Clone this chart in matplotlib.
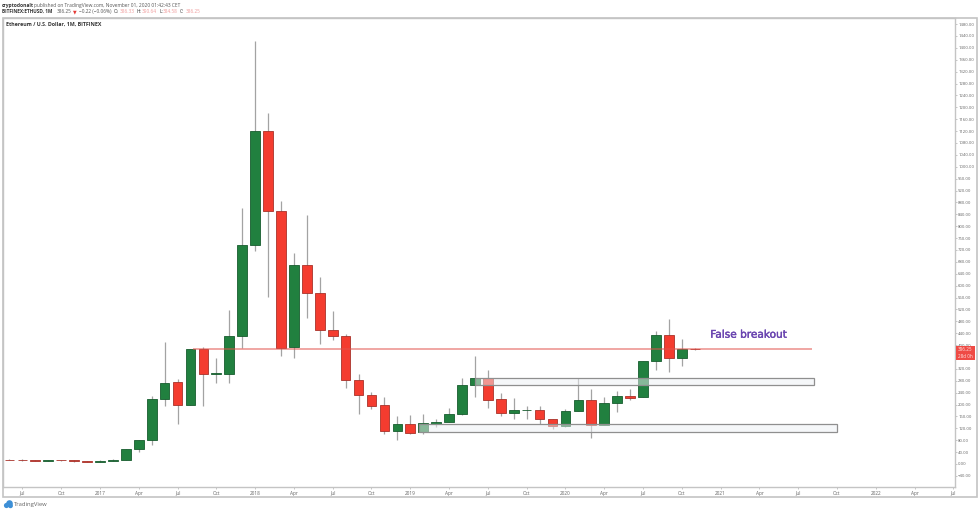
import matplotlib
matplotlib.use("Agg")
import matplotlib.pyplot as plt
import matplotlib.patheffects as pe
from matplotlib.patches import Rectangle, Circle

# months counted from Jan 2017, one candle per month (Jun 2016 -> Nov 2020)
months = list(range(-7, 47))
opens = [15, 14, 12, 11, 13, 12, 9, 8, 10, 13, 49, 80, 217, 275, 198, 387, 302, 302, 431, 736,
         1120, 851, 392, 669, 574, 452, 431, 283, 232, 198, 112, 134, 106, 136, 142, 168, 266, 289,
         218, 172, 181, 182, 150, 128, 179, 216, 132, 204, 230, 224, 345, 433, 358, 386.33]
closes = [14, 12, 11, 13, 12, 9, 8, 10, 15, 49, 80, 217, 273, 198, 387, 302, 305, 431, 736, 1120,
          850, 389, 669, 574, 452, 431, 283, 232, 196, 112, 134, 105, 137, 142, 169, 267, 289, 216,
          172, 181, 183, 150, 128, 179, 216, 132, 204, 230, 223, 346, 433, 358, 386, 386.25]
highs = [18, 16, 14, 15, 15, 13, 11, 12, 17, 52, 82, 229, 410, 285, 387, 395, 356, 518, 862, 1424,
         1180, 886, 711, 838, 628, 515, 436, 303, 243, 225, 161, 165, 168, 152, 187, 288, 363, 316,
         240, 223, 196, 195, 151, 184, 288, 252, 226, 246, 252, 346, 446, 488, 419, 390.64]
lows = [12, 11, 9, 10, 10, 8, 7, 8, 9, 13, 40, 64, 195, 134, 198, 195, 271, 271, 389, 717, 563,
        363, 356, 490, 404, 417, 255, 167, 185, 101, 81, 101, 101, 124, 141, 165, 224, 189, 162,
        151, 152, 134, 118, 125, 179, 88, 132, 174, 215, 224, 316, 308, 331, 384.58]

price_ticks = list(range(-40, 1481, 40))
time_ticks = list(range(-6, 67, 3))
time_labels = ["Jul", "Oct", "2017", "Apr", "Jul", "Oct", "2018", "Apr", "Jul", "Oct", "2019", "Apr", "Jul",
               "Oct", "2020", "Apr", "Jul", "Oct", "2021", "Apr", "Jul", "Oct", "2022", "Apr", "Jul"]

resistance = 387
upper_zone = (266, 289)
lower_zone = (106, 134)

GREEN = "#21803f"
RED = "#f43c2f"
GREY = "#666666"
ZONE_FILL = (0.93, 0.94, 0.955, 0.5)

W, H = 980, 512
fig = plt.figure(figsize=(W / 100, H / 100), dpi=100, facecolor="white")
plt.rcParams["font.family"] = ["Open Sans", "DejaVu Sans"]

left, right, top, bottom = 3, 955, 18, 486.7
ax = fig.add_axes([left / W, 1 - bottom / H, (right - left) / W, (bottom - top) / H])
ax.set_xlim(-7.5, 66.13)
ax.set_ylim(-76.4, 1500.4)

# candles
for m, o, h, l, c in zip(months, opens, highs, lows, closes):
    col = GREEN if c >= o else RED
    edge = "#175c2e" if c >= o else "#a8322a"
    ax.vlines(m, l, h, color="#a3a3a3", lw=0.9, zorder=2)
    ax.bar(m, abs(c - o), bottom=min(o, c), width=0.75, color=col, edgecolor=edge, lw=0.6, zorder=3)

# drawings
ax.hlines(resistance, 7.2, 55.1, color="#e2524c", lw=1.2, alpha=0.6, zorder=4)
ax.add_patch(Rectangle((29, upper_zone[0]), 26.2, upper_zone[1] - upper_zone[0], facecolor=ZONE_FILL,
                       edgecolor="#8f8f8f", lw=0.9, zorder=4))
ax.add_patch(Rectangle((24.7, lower_zone[0]), 32.3, lower_zone[1] - lower_zone[0], facecolor=ZONE_FILL,
                       edgecolor="#8f8f8f", lw=0.9, zorder=4))
ax.text(47.2, 435, "False breakout", color="#6a45b0", fontsize=7.6, family=["DejaVu Sans"],
        va="center", ha="left", zorder=5,
        path_effects=[pe.withStroke(linewidth=0.3, foreground="#6a45b0")])

# axes, TradingView style
ax.yaxis.tick_right()
ax.set_yticks(price_ticks)
ax.set_yticklabels([f"{p:.2f}".replace("-", "\u2212") for p in price_ticks], fontsize=3.1, color=GREY)
ax.set_xticks(time_ticks)
ax.set_xticklabels(time_labels, fontsize=3.4, color=GREY)
ax.tick_params(axis="y", length=1.5, width=0.4, color="#999999", pad=0.8)
ax.tick_params(axis="x", length=1.2, width=0.4, color="#999999", pad=1.6)
for s in ax.spines.values():
    s.set_color("#c4c4c4")
    s.set_linewidth(1.0)

# overlay in pixel coordinates for the frame and captions
ov = fig.add_axes([0, 0, 1, 1], facecolor="none")
ov.set_xlim(0, W)
ov.set_ylim(H, 0)
ov.axis("off")
ov.add_patch(Rectangle((3, 18), 974, 479, fill=False, edgecolor="#c4c4c4", lw=1.2))

ov.text(2, 5.5, "cryptodonalt", fontsize=3.5, weight="bold", color="#333333", va="center")
ov.text(34, 5.5, "published on TradingView.com, November 01, 2020 01:42:43 CET", fontsize=3.5,
        color="#555555", va="center")
ov.text(2, 11.5, "BITFINEX:ETHUSD, 1M", fontsize=3.4, weight="bold", color="#333333", va="center")
header_bits = [(57, "386.25", "#555555"), (72.5, "\u25bc", "#e53935"), (79, "\u22120.22 (\u22120.06%)", "#555555"),
               (114, "O:", "#333333"), (120, "386.33", "#ef9a9a"), (136, "H:", "#333333"),
               (142, "390.64", "#ef9a9a"), (159, "L:", "#333333"), (163, "384.58", "#ef9a9a"),
               (180, "C:", "#333333"), (186, "386.25", "#ef9a9a")]
for x, s, col in header_bits:
    ov.text(x, 11.5, s, fontsize=3.4, color=col, va="center")
ov.text(6, 24.3, "Ethereum / U.S. Dollar, 1M, BITFINEX", fontsize=3.8, weight="bold", color="#333333", va="center")

# last price and countdown tags
for y, s in [(349.3, "386.25"), (356.7, "28d 0h")]:
    ov.add_patch(Rectangle((956, y - 3.6), 19, 7.2, facecolor="#ef4b45", edgecolor="none"))
    ov.text(965.5, y, s, fontsize=3.3, color="#ffe4e2", ha="center", va="center")

# TradingView logo
for cx, cy, r in [(6.5, 505.5, 2.6), (9.5, 503.5, 3.3), (10.5, 505.8, 2.4)]:
    ov.add_patch(Circle((cx, cy), r, facecolor="#3d8fd6", edgecolor="none"))
ov.text(14, 504.5, "TradingView", fontsize=4.2, color="#666666", va="center")

fig.savefig("out.png", dpi=100)
